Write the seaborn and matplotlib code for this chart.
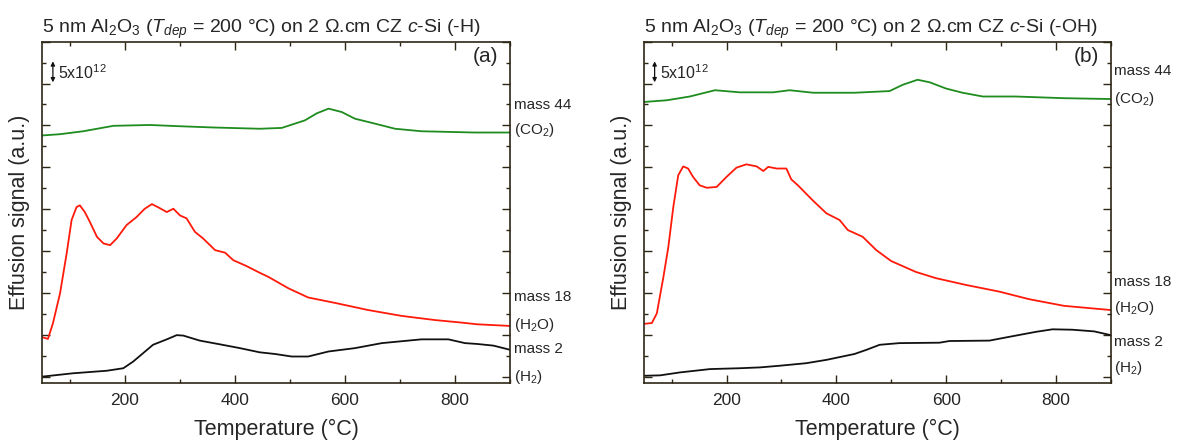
import numpy as np
import pandas as pd
import matplotlib
matplotlib.use("Agg")
import matplotlib.pyplot as plt
from matplotlib.ticker import MultipleLocator, NullFormatter
from matplotlib.transforms import blended_transform_factory
import seaborn as sns

# ---- TDS effusion data (signal in units of 1e12, curves offset for clarity) ----
# Panel (a): -H terminated surface
temp_a_44 = [50, 82, 124, 179, 245, 300, 361, 445, 485, 527, 549, 570, 594, 618, 649, 691, 739, 836, 900]
sig_a_44 = [57.6, 57.9, 58.6, 59.9, 60.1, 59.8, 59.5, 59.2, 59.4, 61.2, 62.9, 64.0, 63.2, 61.6, 60.6, 59.2, 58.6, 58.3, 58.3]

temp_a_18 = [50, 60, 69, 82, 94, 103, 112, 118, 127, 136, 149, 161, 173, 185, 203, 221, 236, 249, 261, 276,
             288, 300, 312, 327, 342, 364, 382, 397, 421, 445, 461, 497, 533, 582, 642, 703, 764, 812, 840, 900]
sig_a_18 = [9.4, 9.0, 12.7, 19.9, 29.4, 37.4, 40.5, 40.9, 39.3, 37.0, 33.4, 31.8, 31.4, 33.0, 36.2, 38.1, 40.1, 41.2, 40.4, 39.3,
            40.1, 38.5, 37.8, 34.6, 33.0, 30.2, 29.6, 27.8, 26.4, 24.8, 23.8, 21.1, 18.9, 17.6, 15.9, 14.5, 13.5, 12.9, 12.5, 12.1]

temp_a_2 = [50, 106, 167, 197, 215, 233, 251, 276, 294, 306, 336, 373, 409, 445, 473, 503, 533, 570, 618, 667,
            715, 739, 788, 818, 840, 870, 900]
sig_a_2 = [0.0, 0.8, 1.4, 2.0, 3.6, 5.6, 7.6, 8.9, 9.9, 9.8, 8.6, 7.7, 6.8, 5.8, 5.4, 4.8, 4.8, 6.0, 6.8, 8.0,
           8.6, 8.9, 8.9, 8.0, 7.8, 7.4, 6.4]

# Panel (b): -OH terminated surface
temp_b_44 = [50, 91, 133, 179, 224, 285, 315, 358, 433, 497, 521, 548, 570, 600, 630, 667, 727, 815, 900]
sig_b_44 = [65.6, 66.0, 66.9, 68.4, 67.9, 67.9, 68.4, 67.8, 67.8, 68.2, 69.7, 70.9, 70.3, 68.8, 67.8, 66.9, 66.9, 66.5, 66.3]

temp_b_18 = [50, 64, 73, 85, 94, 103, 112, 121, 130, 139, 151, 164, 182, 200, 218, 236, 255, 267, 276, 291,
             309, 318, 330, 357, 382, 406, 421, 448, 473, 500, 545, 582, 636, 697, 751, 815, 900]
sig_b_18 = [12.6, 12.8, 15.1, 23.8, 31.0, 40.5, 48.1, 50.2, 49.7, 47.7, 45.7, 45.1, 45.3, 47.7, 49.9, 50.7, 50.2, 49.1, 50.1, 49.7,
            49.7, 47.1, 45.7, 42.1, 39.0, 37.4, 35.0, 33.4, 30.2, 27.6, 25.0, 23.5, 21.9, 20.3, 18.5, 16.9, 15.9]

temp_b_2 = [50, 79, 115, 170, 224, 261, 297, 345, 382, 433, 455, 479, 515, 588, 606, 679, 715, 764, 794, 830, 870, 900]
sig_b_2 = [0.2, 0.3, 1.0, 1.8, 2.0, 2.2, 2.6, 3.2, 4.0, 5.4, 6.4, 7.6, 8.0, 8.1, 8.5, 8.6, 9.5, 10.7, 11.3, 11.2, 10.8, 9.9]

masses = ["mass 44", "mass 18", "mass 2"]
species = ["(CO$_2$)", "(H$_2$O)", "(H$_2$)"]
titles = [
    "5 nm Al$_2$O$_3$ ($T_{dep}$ = 200 °C) on 2 Ω.cm CZ $c$-Si (-H)",
    "5 nm Al$_2$O$_3$ ($T_{dep}$ = 200 °C) on 2 Ω.cm CZ $c$-Si (-OH)",
]
panel_tags = ["(a)", "(b)"]
scale_text = "5x10$^{12}$"


def long_frame(t44, s44, t18, s18, t2, s2):
    parts = []
    for m, t, s in zip(masses, (t44, t18, t2), (s44, s18, s2)):
        parts.append(pd.DataFrame({"T": t, "signal": s, "mass": m}))
    return pd.concat(parts, ignore_index=True)


frames = [
    long_frame(temp_a_44, sig_a_44, temp_a_18, sig_a_18, temp_a_2, sig_a_2),
    long_frame(temp_b_44, sig_b_44, temp_b_18, sig_b_18, temp_b_2, sig_b_2),
]

# label heights next to the right spine (data units)
label_y = [
    [64.8, 58.8, 19.0, 12.3, 6.6, 0.0],
    [73.1, 66.4, 22.6, 16.4, 8.3, 2.1],
]

sns.set_style("white")
plt.rcParams["font.family"] = ["Liberation Sans", "DejaVu Sans"]
plt.rcParams["mathtext.fontset"] = "custom"
plt.rcParams["mathtext.rm"] = "Liberation Sans"
plt.rcParams["mathtext.it"] = "Liberation Sans:italic"
plt.rcParams["mathtext.bf"] = "Liberation Sans:bold"

spine_col = "#2e2615"
palette = {"mass 44": "#1e8c1e", "mass 18": "#ff1a0a", "mass 2": "#111111"}

fig = plt.figure(figsize=(11.79, 4.48), dpi=100)
ax_a = fig.add_axes([0.036, 0.1444, 0.3966, 0.7626])
ax_b = fig.add_axes([0.5464, 0.1444, 0.3957, 0.7626])

for i, (ax, df) in enumerate(zip((ax_a, ax_b), frames)):
    sns.lineplot(data=df, x="T", y="signal", hue="mass", palette=palette,
                 estimator=None, sort=False, linewidth=1.3, legend=False, ax=ax)
    ax.set_xlim(50, 900)
    ax.set_ylim(-1.6, 80)
    ax.xaxis.set_major_locator(MultipleLocator(200))
    ax.xaxis.set_minor_locator(MultipleLocator(100))
    ax.yaxis.set_major_locator(MultipleLocator(10))
    ax.yaxis.set_minor_locator(MultipleLocator(5))
    ax.yaxis.set_major_formatter(NullFormatter())
    ax.tick_params(which="both", direction="in", top=True, right=True, bottom=True, left=True,
                   color=spine_col, labelsize=12.5, pad=7)
    ax.tick_params(which="major", length=5.5, width=1.0)
    ax.tick_params(which="minor", length=3, width=1.0)
    for sp in ax.spines.values():
        sp.set_color(spine_col)
        sp.set_linewidth(1.2)
    ax.set_xlabel("Temperature (°C)", fontsize=15.5, labelpad=8)
    ax.set_ylabel("Effusion signal (a.u.)", fontsize=15.5, labelpad=2)
    ax.set_title(titles[i], fontsize=14, loc="left", pad=6)

    ax.text(0.975, 0.985, panel_tags[i], transform=ax.transAxes, ha="right", va="top", fontsize=15)

    # scale bar
    ax.annotate("", xy=(69, 70.3), xytext=(69, 75.3),
                arrowprops=dict(arrowstyle="<|-|>", color="#111111", lw=0.9,
                                mutation_scale=6, shrinkA=0, shrinkB=0))
    ax.text(79, 72.6, scale_text, ha="left", va="center", fontsize=11.5)

    # mass / species labels beside the right spine
    tr = blended_transform_factory(ax.transAxes, ax.transData)
    texts = [masses[0], species[0], masses[1], species[1], masses[2], species[2]]
    for t, y in zip(texts, label_y[i]):
        ax.text(1.008, y, t, transform=tr, ha="left", va="center", fontsize=11, clip_on=False)

fig.savefig("out.png", dpi=100)
